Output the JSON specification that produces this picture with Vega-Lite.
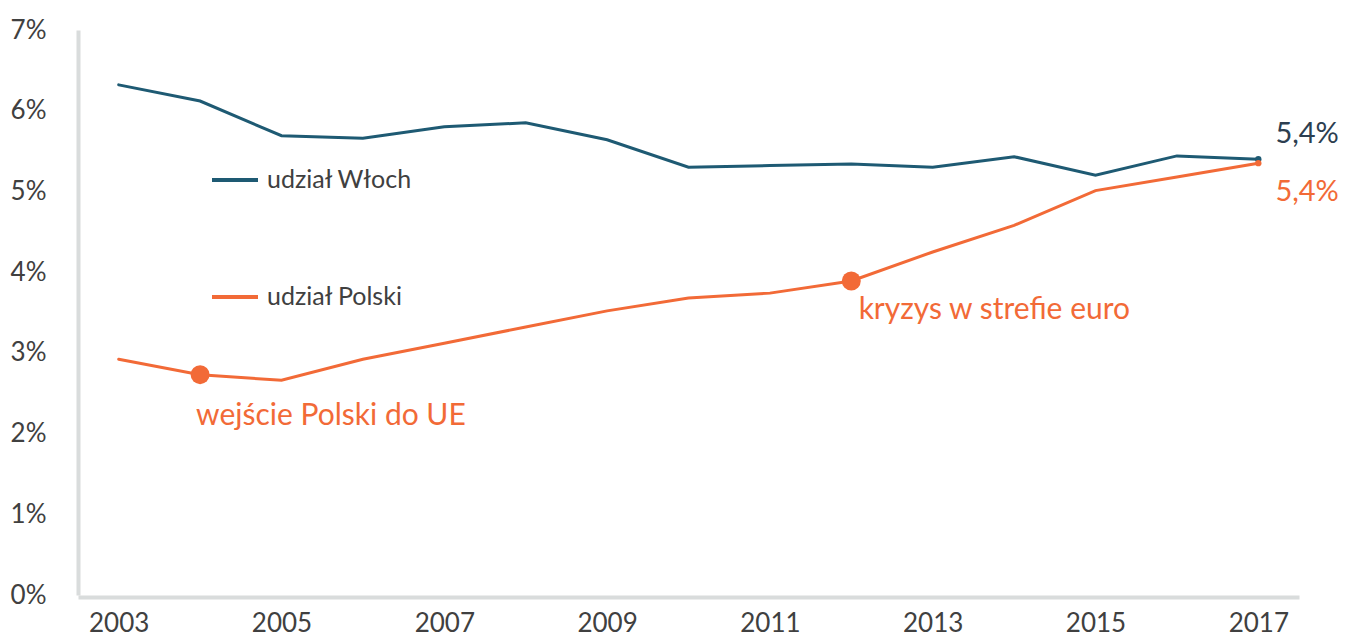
{
  "$schema": "https://vega.github.io/schema/vega-lite/v6.json",
  "autosize": "none",
  "width": 1221,
  "height": 565,
  "padding": {"left": 78, "top": 30, "right": 53, "bottom": 42},
  "background": "white",
  "config": {
    "view": {"stroke": null},
    "font": "Lato",
    "axis": {"grid": false, "ticks": false, "domainColor": "#d9dcdc", "domainWidth": 4, "labelFont": "Lato", "labelColor": "#404040", "labelFontSize": 26, "title": null},
    "legend": {"labelFont": "Lato"}
  },
  "datasets": {
    "series": [
      {"year": 2003, "country": "udział Włoch", "value": 0.0632},
      {"year": 2004, "country": "udział Włoch", "value": 0.0612},
      {"year": 2005, "country": "udział Włoch", "value": 0.0569},
      {"year": 2006, "country": "udział Włoch", "value": 0.0566},
      {"year": 2007, "country": "udział Włoch", "value": 0.0580},
      {"year": 2008, "country": "udział Włoch", "value": 0.0585},
      {"year": 2009, "country": "udział Włoch", "value": 0.0564},
      {"year": 2010, "country": "udział Włoch", "value": 0.0530},
      {"year": 2011, "country": "udział Włoch", "value": 0.0532},
      {"year": 2012, "country": "udział Włoch", "value": 0.0534},
      {"year": 2013, "country": "udział Włoch", "value": 0.0530},
      {"year": 2014, "country": "udział Włoch", "value": 0.0543},
      {"year": 2015, "country": "udział Włoch", "value": 0.0520},
      {"year": 2016, "country": "udział Włoch", "value": 0.0544},
      {"year": 2017, "country": "udział Włoch", "value": 0.0540},
      {"year": 2003, "country": "udział Polski", "value": 0.0292},
      {"year": 2004, "country": "udział Polski", "value": 0.0273},
      {"year": 2005, "country": "udział Polski", "value": 0.0266},
      {"year": 2006, "country": "udział Polski", "value": 0.0292},
      {"year": 2007, "country": "udział Polski", "value": 0.0312},
      {"year": 2008, "country": "udział Polski", "value": 0.0332},
      {"year": 2009, "country": "udział Polski", "value": 0.0352},
      {"year": 2010, "country": "udział Polski", "value": 0.0368},
      {"year": 2011, "country": "udział Polski", "value": 0.0374},
      {"year": 2012, "country": "udział Polski", "value": 0.0389},
      {"year": 2013, "country": "udział Polski", "value": 0.0425},
      {"year": 2014, "country": "udział Polski", "value": 0.0458},
      {"year": 2015, "country": "udział Polski", "value": 0.0501},
      {"year": 2016, "country": "udział Polski", "value": 0.0518},
      {"year": 2017, "country": "udział Polski", "value": 0.0535}
    ],
    "notes": [
      {"year": 2003.95, "value": 0.0222, "label": "wejście Polski do UE", "country": "udział Polski"},
      {"year": 2012.09, "value": 0.0353, "label": "kryzys w strefie euro", "country": "udział Polski"},
      {"year": 2017.21, "value": 0.0571, "label": "5,4%", "country": "udział Włoch"},
      {"year": 2017.21, "value": 0.0499, "label": "5,4%", "country": "udział Polski"}
    ]
  },
  "layer": [
    {
      "data": {"name": "series"},
      "mark": {"type": "line", "strokeWidth": 3, "strokeCap": "round"},
      "encoding": {
        "x": {"field": "year", "type": "quantitative", "scale": {"domain": [2002.5, 2017.5], "nice": false, "zero": false},
              "axis": {"values": [2003, 2005, 2007, 2009, 2011, 2013, 2015, 2017], "format": "d", "labelPadding": 13, "offset": 2, "labelFlush": false}},
        "y": {"field": "value", "type": "quantitative", "scale": {"domain": [0, 0.07], "nice": false},
              "axis": {"values": [0, 0.01, 0.02, 0.03, 0.04, 0.05, 0.06, 0.07], "format": ".0%", "labelPadding": 32, "labelFlush": false}},
        "color": {"field": "country", "type": "nominal",
                  "scale": {"domain": ["udział Włoch", "udział Polski"], "range": ["#1e5a73", "#f26a37"]},
                  "legend": {"orient": "none", "legendX": 132, "legendY": 125, "title": null, "symbolType": "stroke", "symbolSize": 2116, "symbolStrokeWidth": 4, "labelFontSize": 25, "labelColor": "#404040", "rowPadding": 79, "labelOffset": 7}}
      }
    },
    {
      "data": {"name": "series"},
      "transform": [{"filter": "datum.year == 2017"}],
      "mark": {"type": "circle", "size": 40, "opacity": 1},
      "encoding": {
        "x": {"field": "year", "type": "quantitative"},
        "y": {"field": "value", "type": "quantitative"},
        "color": {"field": "country", "type": "nominal", "legend": null}
      }
    },
    {
      "data": {"name": "series"},
      "transform": [{"filter": "datum.country == 'udział Polski' && (datum.year == 2004 || datum.year == 2012)"}],
      "mark": {"type": "circle", "size": 360, "opacity": 1},
      "encoding": {
        "x": {"field": "year", "type": "quantitative"},
        "y": {"field": "value", "type": "quantitative"},
        "color": {"field": "country", "type": "nominal", "legend": null}
      }
    },
    {
      "data": {"name": "notes"},
      "transform": [{"filter": "datum.country == 'udział Polski' && datum.label != '5,4%'"}],
      "mark": {"type": "text", "align": "left", "baseline": "middle", "fontSize": 30, "font": "Lato", "color": "#f26a37"},
      "encoding": {
        "x": {"field": "year", "type": "quantitative"},
        "y": {"field": "value", "type": "quantitative"},
        "text": {"field": "label"}
      }
    },
    {
      "data": {"name": "notes"},
      "transform": [{"filter": "datum.label == '5,4%'"}],
      "mark": {"type": "text", "align": "left", "baseline": "middle", "fontSize": 29, "font": "Lato"},
      "encoding": {
        "x": {"field": "year", "type": "quantitative"},
        "y": {"field": "value", "type": "quantitative"},
        "text": {"field": "label"},
        "color": {"condition": {"test": "datum.country == 'udział Włoch'", "value": "#2c3e50"}, "value": "#f26a37"}
      }
    }
  ]
}
